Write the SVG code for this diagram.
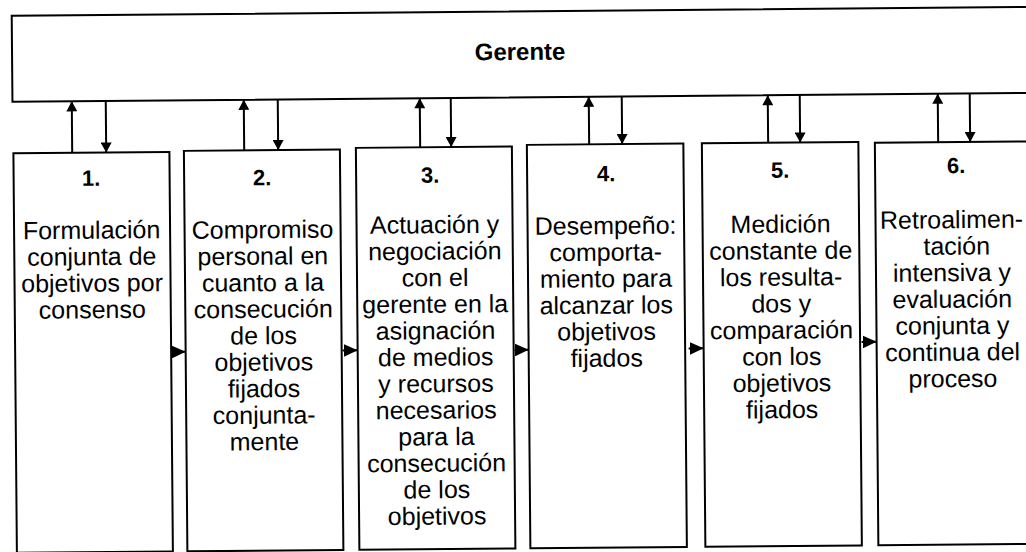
<svg xmlns="http://www.w3.org/2000/svg" width="1026" height="552" viewBox="0 0 1026 552">
<defs>
<style>
.box{fill:#fff;stroke:#000;stroke-width:2}
.t{font-family:"Liberation Sans",Arial,Helvetica,sans-serif;font-size:25px;fill:#000;text-anchor:middle}
.n{font-family:"Liberation Sans",Arial,Helvetica,sans-serif;font-size:22px;font-weight:bold;fill:#000;text-anchor:middle}
.g{font-family:"Liberation Sans",Arial,Helvetica,sans-serif;font-size:24px;font-weight:bold;fill:#000;text-anchor:middle}
.c{stroke:#000;stroke-width:2;fill:none}
.cv{marker-end:url(#av)}
.ch{marker-end:url(#ah)}
</style>
<marker id="av" markerUnits="userSpaceOnUse" markerWidth="11" markerHeight="11" viewBox="0 0 10 11" refX="10" refY="5.5" orient="auto"><path d="M0,0 L10,5.5 L0,11 z" fill="#000"/></marker>
<marker id="ah" markerUnits="userSpaceOnUse" markerWidth="14" markerHeight="13" viewBox="0 0 14 13" refX="14" refY="6.5" orient="auto"><path d="M0,0 L14,6.5 L0,13 z" fill="#000"/></marker>
</defs>
<rect width="1026" height="552" fill="#fff"/>
<g transform="rotate(-0.5 513 276)">
<g id="gerente">
<rect class="box" x="14" y="11.5" width="1040" height="86"/>
<text class="g" x="522" y="60">Gerente</text>
</g>
<g id="paso1">
<rect class="box" x="14.5" y="149" width="156" height="399.5"/>
<text class="n" x="92" y="182">1.</text>
<text class="t" x="92" y="235">Formulación</text>
<text class="t" x="92" y="261.5">conjunta de</text>
<text class="t" x="92" y="288">objetivos por</text>
<text class="t" x="92" y="314.5">consenso</text>
</g>
<g id="paso2">
<rect class="box" x="185" y="148" width="156" height="400.5"/>
<text class="n" x="263" y="183">2.</text>
<text class="t" x="263" y="236">Compromiso</text>
<text class="t" x="263" y="262.5">personal en</text>
<text class="t" x="263" y="289">cuanto a la</text>
<text class="t" x="263" y="315.5">consecución</text>
<text class="t" x="263" y="342">de los</text>
<text class="t" x="263" y="368.5">objetivos</text>
<text class="t" x="263" y="395">fijados</text>
<text class="t" x="263" y="421.5">conjunta-</text>
<text class="t" x="263" y="448">mente</text>
</g>
<g id="paso3">
<rect class="box" x="357" y="146.5" width="156" height="402"/>
<text class="n" x="431" y="182">3.</text>
<text class="t" x="435" y="232.5">Actuación y</text>
<text class="t" x="435" y="259">negociación</text>
<text class="t" x="435" y="285.5">con el</text>
<text class="t" x="435" y="312">gerente en la</text>
<text class="t" x="435" y="338.5">asignación</text>
<text class="t" x="435" y="365">de medios</text>
<text class="t" x="435" y="391.5">y recursos</text>
<text class="t" x="435" y="418">necesarios</text>
<text class="t" x="435" y="444.5">para la</text>
<text class="t" x="435" y="471">consecución</text>
<text class="t" x="435" y="497.5">de los</text>
<text class="t" x="435" y="524">objetivos</text>
</g>
<g id="paso4">
<rect class="box" x="528" y="145" width="156.5" height="403.5"/>
<text class="n" x="607" y="182">4.</text>
<text class="t" x="606" y="235">Desempeño:</text>
<text class="t" x="606" y="261.5">comporta-</text>
<text class="t" x="606" y="288">miento para</text>
<text class="t" x="606" y="314.5">alcanzar los</text>
<text class="t" x="606" y="341">objetivos</text>
<text class="t" x="606" y="367.5">fijados</text>
</g>
<g id="paso5">
<rect class="box" x="703" y="145" width="156.5" height="403.5"/>
<text class="n" x="781" y="180">5.</text>
<text class="t" x="781" y="235">Medición</text>
<text class="t" x="781" y="261.5">constante de</text>
<text class="t" x="781" y="288">los resulta-</text>
<text class="t" x="781" y="314.5">dos y</text>
<text class="t" x="781" y="341">comparación</text>
<text class="t" x="781" y="367.5">con los</text>
<text class="t" x="781" y="394">objetivos</text>
<text class="t" x="781" y="420.5">fijados</text>
</g>
<g id="paso6">
<rect class="box" x="876" y="146" width="180" height="402.5"/>
<text class="n" x="957" y="177">6.</text>
<text class="t" x="952" y="232">Retroalimen-</text>
<text class="t" x="957" y="258.5">tación</text>
<text class="t" x="952" y="285">intensiva y</text>
<text class="t" x="952" y="311.5">evaluación</text>
<text class="t" x="952" y="338">conjunta y</text>
<text class="t" x="952" y="364.5">continua del</text>
<text class="t" x="952" y="391">proceso</text>
</g>
<g id="conectores" class="c">
<line class="cv" x1="73.3" y1="149" x2="73.3" y2="97.5"/>
<line class="cv" x1="107.3" y1="97.5" x2="107.3" y2="149"/>
<line class="cv" x1="245.3" y1="148" x2="245.3" y2="97.5"/>
<line class="cv" x1="279.3" y1="97.5" x2="279.3" y2="148"/>
<line class="cv" x1="421.3" y1="146.5" x2="421.3" y2="97.5"/>
<line class="cv" x1="452.3" y1="97.5" x2="452.3" y2="146.5"/>
<line class="cv" x1="590.3" y1="145" x2="590.3" y2="97.5"/>
<line class="cv" x1="623.3" y1="97.5" x2="623.3" y2="145"/>
<line class="cv" x1="769.3" y1="145" x2="769.3" y2="97.5"/>
<line class="cv" x1="801.3" y1="97.5" x2="801.3" y2="145"/>
<line class="cv" x1="939.3" y1="146" x2="939.3" y2="97.5"/>
<line class="cv" x1="971.3" y1="97.5" x2="971.3" y2="146"/>
<line class="ch" x1="171" y1="349" x2="185" y2="349"/>
<line class="ch" x1="342" y1="349" x2="357" y2="349"/>
<line class="ch" x1="514" y1="350" x2="528" y2="350"/>
<line class="ch" x1="688" y1="350" x2="703" y2="350"/>
<line class="ch" x1="861" y1="345" x2="876" y2="345"/>
</g>
</g>
</svg>
